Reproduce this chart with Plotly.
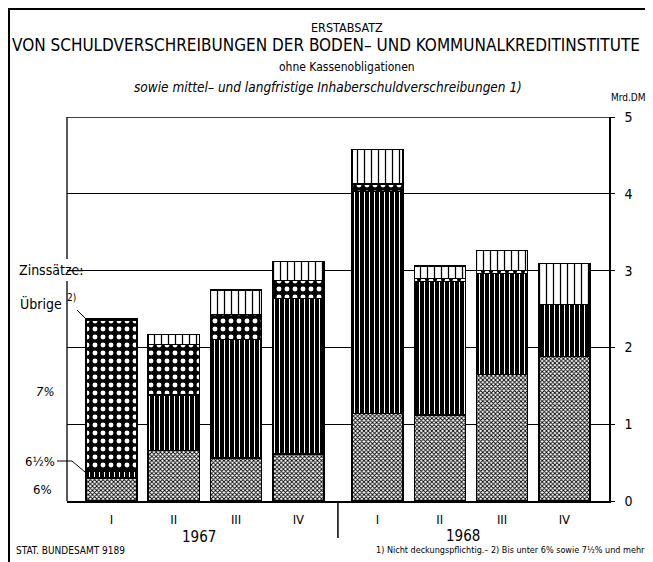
import plotly.graph_objects as go

# ---- data (Mrd. DM) ----
quarters = ["I", "II", "III", "IV", "I", "II", "III", "IV"]
years = ["1967", "1967", "1967", "1967", "1968", "1968", "1968", "1968"]
rate_6 = [0.30, 0.66, 0.56, 0.61, 1.14, 1.12, 1.65, 1.88]
rate_6half = [0.09, 0.72, 1.54, 2.03, 2.89, 1.74, 1.31, 0.68]
rate_7 = [1.96, 0.66, 0.33, 0.23, 0.10, 0.04, 0.04, 0.00]
others = [0.02, 0.13, 0.32, 0.25, 0.45, 0.16, 0.26, 0.53]
y_ticks = [0, 1, 2, 3, 4, 5]

OFF = 8  # page body margin
W, H = 653 - OFF, 562 - OFF
L, R, T, B = 67, 609, 117, 501  # plot area in window pixels
FONT = "Liberation Sans Narrow, DejaVu Sans Condensed, Roboto Condensed, Liberation Sans, sans-serif"


def px(x):
    return (x - L) / (R - L)


def py(y):
    return (B - y) / (B - T)


pos = [i + (0.27 if years[i] == "1968" else 0.0) for i in range(len(quarters))]

series = [
    ("6%", rate_6, dict(shape="x", fgcolor="black", bgcolor="white", size=3, solidity=0.5, fgopacity=1)),
    ("6½%", rate_6half, dict(shape="|", fgcolor="white", bgcolor="black", size=5, solidity=0.2, fgopacity=1)),
    ("7%", rate_7, dict(shape=".", fgcolor="white", bgcolor="black", size=8, solidity=0.3, fgopacity=1)),
    ("Übrige", others, dict(shape="|", fgcolor="black", bgcolor="white", size=7, solidity=0.18, fgopacity=1)),
]

fig = go.Figure()
for name, vals, pat in series:
    fig.add_trace(go.Bar(
        x=pos, y=vals, name=name, width=0.82,
        marker=dict(color="white", pattern=pat, line=dict(color="black", width=1.5)),
        hovertemplate=name + ": %{y}<extra></extra>",
    ))

shapes = []
line = dict(color="black", width=1.3)
shapes.append(dict(type="line", xref="paper", yref="y", x0=0, x1=1, y0=5, y1=5, line=line))
shapes.append(dict(type="line", xref="paper", yref="paper", x0=0, x1=0, y0=py(T), y1=py(259), line=line))
shapes.append(dict(type="line", xref="paper", yref="paper", x0=0, x1=0, y0=py(281), y1=0, line=line))
shapes.append(dict(type="line", xref="paper", yref="y", x0=px(83), x1=0, y0=3, y1=3, line=line))
shapes.append(dict(type="line", xref="x", yref="paper", x0=3.635, x1=3.635, y0=0, y1=py(538),
                   line=dict(color="black", width=1.5)))
shapes.append(dict(type="line", xref="paper", yref="paper", x0=px(77), y0=py(310), x1=px(87), y1=py(320),
                   line=dict(color="black", width=1)))
shapes.append(dict(type="path", xref="paper", yref="paper",
                   path=f"M {px(57)},{py(461)} L {px(72)},{py(461)} L {px(85)},{py(472)}",
                   line=dict(color="black", width=1)))
shapes.append(dict(type="line", xref="paper", yref="paper", x0=px(9), x1=px(9), y0=py(8), y1=py(562),
                   line=dict(color="black", width=2)))
shapes.append(dict(type="line", xref="paper", yref="paper", x0=px(9), x1=px(652), y0=py(9), y1=py(9),
                   line=dict(color="black", width=2)))

ann = []


def text(x, y, s, size=13, xanchor="center", yanchor="middle"):
    ann.append(dict(x=px(x), y=py(y), xref="paper", yref="paper", text=s, showarrow=False,
                    xanchor=xanchor, yanchor=yanchor, font=dict(family=FONT, size=size, color="black")))


text(347, 27, "ERSTABSATZ", 12.5)
text(326, 45, "VON SCHULDVERSCHREIBUNGEN DER BODEN– UND KOMMUNALKREDITINSTITUTE", 17)
text(347, 67, "ohne Kassenobligationen", 12)
text(328, 87, "<i>sowie mittel– und langfristige Inhaberschuldverschreibungen 1)</i>", 13.5)
text(628, 98, "Mrd.DM", 10)
text(17, 270, "Zinssätze:", 14, xanchor="left")
text(18, 303, "Übrige", 14, xanchor="left")
text(65, 297, "2)", 10, xanchor="left")
text(45, 391, "<i>7%</i>", 13)
text(57, 461, "6½%", 13, xanchor="right")
text(54, 489, "6%", 13, xanchor="right")
text(199, 537, "1967", 15)
text(463, 536, "1968", 15)
text(14, 550, "STAT. BUNDESAMT 9189", 10, xanchor="left")
text(649, 550, "1) Nicht deckungspflichtig.– 2) Bis unter 6% sowie 7½% und mehr:", 9, xanchor="right")

fig.update_layout(
    width=W, height=H,
    margin=dict(l=L - OFF, r=W - (R - OFF), t=T - OFF, b=H - (B - OFF)),
    paper_bgcolor="white", plot_bgcolor="white",
    barmode="stack", showlegend=False,
    font=dict(family=FONT, size=13, color="black"),
    shapes=shapes, annotations=ann,
    xaxis=dict(range=[-0.714, 7.986], tickvals=pos, ticktext=quarters, showgrid=False,
               zeroline=False, showline=True, linecolor="black", linewidth=2, ticks="",
               ticklabelstandoff=5, tickfont=dict(family=FONT, size=13), fixedrange=True),
    yaxis=dict(range=[0, 5], side="right", tickvals=y_ticks, ticktext=[str(v) for v in y_ticks],
               showgrid=True, gridcolor="black", gridwidth=1, zeroline=False, showline=True,
               linecolor="black", linewidth=1.5, ticks="outside", ticklen=4, tickcolor="black",
               ticklabelstandoff=7, tickfont=dict(family=FONT, size=14), fixedrange=True),
)

fig.write_html("out.html")
